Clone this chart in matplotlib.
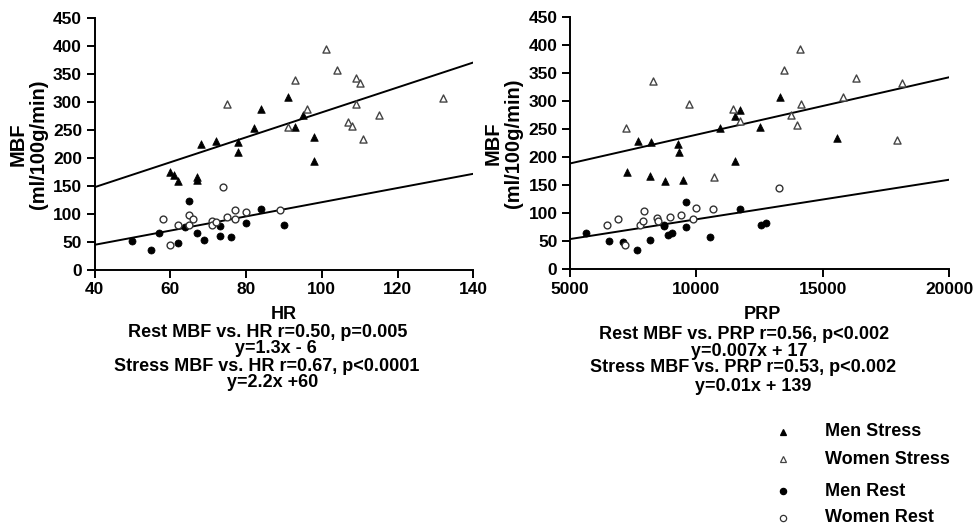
import numpy as np
import matplotlib.pyplot as plt
from matplotlib.lines import Line2D

plt.rcParams['font.family'] = ['Liberation Sans', 'DejaVu Sans']
plt.rcParams['font.weight'] = 'bold'

# ---- HR panel ----
hr_men_stress = [60, 61, 62, 67, 67, 68, 72, 78, 78, 82, 84, 91, 93, 95, 98, 98]
mbf_men_stress_hr = [175, 169, 160, 167, 161, 226, 231, 228, 211, 253, 287, 309, 256, 277, 237, 195]
hr_women_stress = [75, 93, 91, 96, 101, 104, 109, 110, 109, 107, 108, 111, 115, 132]
mbf_women_stress_hr = [296, 339, 255, 288, 395, 358, 344, 335, 297, 265, 258, 234, 278, 307]
hr_men_rest = [50, 55, 57, 62, 64, 65, 67, 69, 73, 73, 76, 80, 84, 90]
mbf_men_rest_hr = [51, 35, 66, 48, 77, 123, 66, 54, 78, 61, 59, 84, 109, 81]
hr_women_rest = [58, 60, 62, 65, 66, 65, 71, 71, 72, 74, 75, 77, 77, 80, 89]
mbf_women_rest_hr = [91, 44, 80, 98, 91, 80, 88, 80, 86, 148, 94, 108, 92, 104, 108]
hr_line_x = [40, 140]
hr_stress_line = [148, 371]
hr_rest_line = [45, 172]

# ---- PRP panel ----
prp_men_stress = [7250, 7700, 8200, 8180, 8760, 9260, 9310, 9470, 10930, 11510, 11540, 11710, 12510, 13320, 15540]
mbf_men_stress_prp = [174, 229, 227, 167, 158, 224, 210, 160, 252, 194, 274, 285, 254, 307, 234]
prp_women_stress = [7200, 8300, 9700, 10680, 11450, 11710, 13450, 13740, 13990, 14080, 14120, 15780, 16310, 17940, 18110]
mbf_women_stress_prp = [253, 337, 295, 164, 286, 264, 356, 275, 257, 393, 295, 307, 341, 231, 333]
prp_men_rest = [5650, 6540, 7080, 7650, 8160, 8700, 8730, 8860, 9020, 9590, 9570, 10520, 11740, 12570, 12760]
mbf_men_rest_prp = [65, 50, 48, 35, 53, 79, 78, 61, 65, 121, 76, 58, 107, 79, 83]
prp_women_rest = [6450, 6910, 7160, 7750, 7870, 7940, 8430, 8470, 8970, 9390, 9860, 9970, 10650, 13280]
mbf_women_rest_prp = [80, 90, 43, 80, 86, 104, 92, 86, 94, 97, 90, 109, 107, 146]
prp_line_x = [5000, 20000]
prp_stress_line = [189, 343]
prp_rest_line = [54, 160]

hr_notes = ["HR", "Rest MBF vs. HR r=0.50, p=0.005", "y=1.3x - 6",
            "Stress MBF vs. HR r=0.67, p<0.0001", "y=2.2x +60"]
prp_notes = ["PRP", "Rest MBF vs. PRP r=0.56, p<0.002", "y=0.007x + 17",
             "Stress MBF vs. PRP r=0.53, p<0.002", "y=0.01x + 139"]
legend_labels = ["Men Stress", "Women Stress", "Men Rest", "Women Rest"]

W, H = 974, 529
fig = plt.figure(figsize=(W / 100, H / 100), dpi=100)
ax1 = fig.add_axes([94.5 / W, 1 - 270 / H, 378.8 / W, 251.7 / H])
ax2 = fig.add_axes([570 / W, 1 - 269.3 / H, 379.3 / W, 252 / H])

st_men = dict(marker='^', s=30, facecolor='black', edgecolor='black', linewidths=0.5, zorder=3)
st_wom = dict(marker='^', s=26, facecolor='white', edgecolor='#444444', linewidths=1.0, zorder=3)
re_men = dict(marker='o', s=26, facecolor='black', edgecolor='black', linewidths=0.5, zorder=3)
re_wom = dict(marker='o', s=24, facecolor='white', edgecolor='#333333', linewidths=1.0, zorder=3)

def panel(ax, xs, ys, lx, lstress, lrest, xlim, xticks):
    ax.plot(lx, lstress, '-k', lw=1.4, zorder=2)
    ax.plot(lx, lrest, '-k', lw=1.4, zorder=2)
    ax.scatter(xs[0], ys[0], **st_men)
    ax.scatter(xs[1], ys[1], **st_wom)
    ax.scatter(xs[2], ys[2], **re_men)
    ax.scatter(xs[3], ys[3], **re_wom)
    ax.set_xlim(xlim)
    ax.set_ylim(0, 450)
    ax.set_xticks(xticks)
    ax.set_yticks(np.arange(0, 451, 50))
    for s in ['top', 'right']:
        ax.spines[s].set_visible(False)
    for s in ['left', 'bottom']:
        ax.spines[s].set_linewidth(1.4)
    ax.tick_params(direction='out', length=5.5, width=1.4, labelsize=12.5, pad=3.5)
    ax.set_ylabel("MBF\n(ml/100g/min)", fontsize=14.5, fontweight='bold', linespacing=1.1)

panel(ax1, [hr_men_stress, hr_women_stress, hr_men_rest, hr_women_rest],
      [mbf_men_stress_hr, mbf_women_stress_hr, mbf_men_rest_hr, mbf_women_rest_hr],
      hr_line_x, hr_stress_line, hr_rest_line, (40, 140), [40, 60, 80, 100, 120, 140])
panel(ax2, [prp_men_stress, prp_women_stress, prp_men_rest, prp_women_rest],
      [mbf_men_stress_prp, mbf_women_stress_prp, mbf_men_rest_prp, mbf_women_rest_prp],
      prp_line_x, prp_stress_line, prp_rest_line, (5000, 20000), [5000, 10000, 15000, 20000])
ax1.yaxis.set_label_coords(-0.123, 0.5)
ax2.yaxis.set_label_coords(-0.124, 0.5)

# annotations under each panel (baseline positions in pixels)
hr_x = [284, 268, 276, 267, 273]
hr_y = [319, 337, 353, 371, 387]
prp_x = [762, 744, 749, 743, 753]
prp_y = [319, 339, 356, 372, 391]
for t, x, y in zip(hr_notes, hr_x, hr_y):
    fig.text(x / W, 1 - y / H, t, ha='center', va='baseline', fontsize=13, fontweight='bold')
for t, x, y in zip(prp_notes, prp_x, prp_y):
    fig.text(x / W, 1 - y / H, t, ha='center', va='baseline', fontsize=13, fontweight='bold')

# legend
leg_y = [432, 459, 491, 518]
leg_styles = [st_men, st_wom, re_men, re_wom]
for lab, y, st in zip(legend_labels, leg_y, leg_styles):
    fig.lines.append(Line2D([783 / W], [1 - y / H], transform=fig.transFigure,
                            marker=st['marker'], markersize=4.5,
                            markerfacecolor=st['facecolor'], markeredgecolor=st['edgecolor'],
                            markeredgewidth=0.9, linestyle='none'))
    fig.text(825 / W, 1 - y / H, lab, ha='left', va='center', fontsize=13, fontweight='bold')

plt.savefig("out.png", dpi=100)
